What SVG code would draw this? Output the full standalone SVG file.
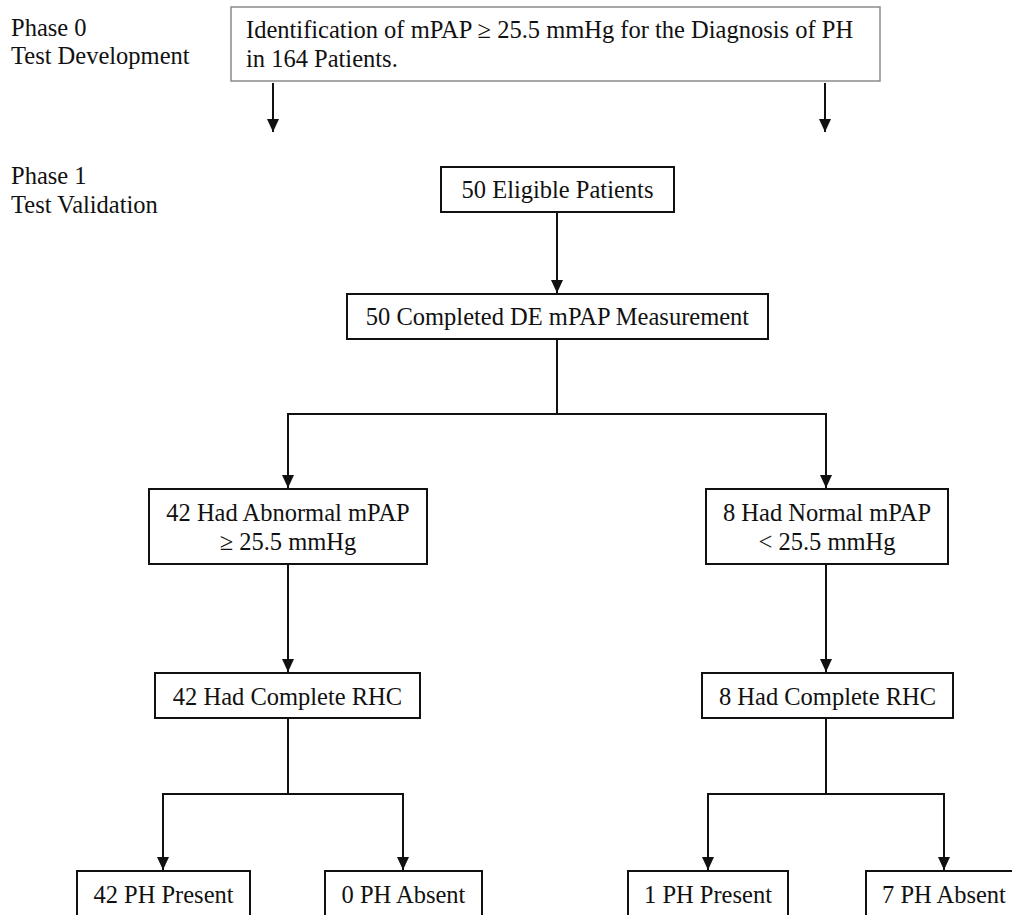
<svg xmlns="http://www.w3.org/2000/svg" width="1012" height="915" viewBox="0 0 1012 915">
<defs>
<marker id="ah" markerUnits="userSpaceOnUse" markerWidth="13" markerHeight="12" viewBox="0 0 13 12" refX="13" refY="6" orient="auto">
<path d="M0,0 L13,6 L0,12 Z" fill="#111"/>
</marker>
</defs>
<style>
text{font-family:"Liberation Serif","Times New Roman",serif;font-size:24.5px;fill:#111}
.box{fill:#fff;stroke:#111;stroke-width:2}
.gbox{fill:#fff;stroke:#8a8a8a;stroke-width:1.5}
.c{text-anchor:middle}
.ln{fill:none;stroke:#111;stroke-width:2}
.ar{fill:none;stroke:#111;stroke-width:2;marker-end:url(#ah)}
</style>
<rect width="1012" height="915" fill="#fff"/>
<g id="labels">
<text x="11" y="36">Phase 0</text>
<text x="11" y="64">Test Development</text>
<text x="11" y="184">Phase 1</text>
<text x="11" y="213">Test Validation</text>
</g>
<g id="connectors">
<line class="ar" x1="273" y1="83" x2="273" y2="132"/>
<line class="ar" x1="825" y1="83" x2="825" y2="132"/>
<line class="ar" x1="557" y1="212" x2="557" y2="293"/>
<polyline class="ln" points="557,339 557,414"/>
<line class="ln" x1="287" y1="414" x2="827" y2="414"/>
<line class="ar" x1="288" y1="414" x2="288" y2="488"/>
<line class="ar" x1="826" y1="414" x2="826" y2="488"/>
<line class="ar" x1="288" y1="564" x2="288" y2="672"/>
<line class="ar" x1="826" y1="564" x2="826" y2="672"/>
<line class="ln" x1="288" y1="718" x2="288" y2="794"/>
<line class="ln" x1="162" y1="794" x2="404" y2="794"/>
<line class="ar" x1="163" y1="794" x2="163" y2="870"/>
<line class="ar" x1="403" y1="794" x2="403" y2="870"/>
<line class="ln" x1="826" y1="718" x2="826" y2="794"/>
<line class="ln" x1="707" y1="794" x2="945" y2="794"/>
<line class="ar" x1="708" y1="794" x2="708" y2="870"/>
<line class="ar" x1="944" y1="794" x2="944" y2="870"/>
</g>
<g id="n-top">
<rect class="gbox" x="231" y="7" width="649" height="74"/>
<text x="246" y="38">Identification of mPAP ≥ 25.5 mmHg for the Diagnosis of PH</text>
<text x="246" y="67">in 164 Patients.</text>
</g>
<g id="n-eligible">
<rect class="box" x="441" y="167" width="233" height="45"/>
<text class="c" x="557.5" y="198">50 Eligible Patients</text>
</g>
<g id="n-completed">
<rect class="box" x="347" y="294" width="421" height="45"/>
<text class="c" x="557.5" y="325">50 Completed DE mPAP Measurement</text>
</g>
<g id="n-abnormal">
<rect class="box" x="149" y="489" width="278" height="75"/>
<text class="c" x="288" y="521">42 Had Abnormal mPAP</text>
<text class="c" x="288" y="550">≥ 25.5 mmHg</text>
</g>
<g id="n-normal">
<rect class="box" x="706" y="489" width="242" height="75"/>
<text class="c" x="827" y="521">8 Had Normal mPAP</text>
<text class="c" x="827" y="550">&lt; 25.5 mmHg</text>
</g>
<g id="n-rhc-left">
<rect class="box" x="155" y="673" width="265" height="45"/>
<text class="c" x="287.5" y="705">42 Had Complete RHC</text>
</g>
<g id="n-rhc-right">
<rect class="box" x="702" y="673" width="251" height="45"/>
<text class="c" x="827.5" y="705">8 Had Complete RHC</text>
</g>
<g id="n-42-present">
<rect class="box" x="77" y="871" width="173" height="46"/>
<text class="c" x="163.5" y="903">42 PH Present</text>
</g>
<g id="n-0-absent">
<rect class="box" x="325" y="871" width="157" height="46"/>
<text class="c" x="403.5" y="903">0 PH Absent</text>
</g>
<g id="n-1-present">
<rect class="box" x="628" y="871" width="160" height="46"/>
<text class="c" x="708" y="903">1 PH Present</text>
</g>
<g id="n-7-absent">
<rect class="box" x="866" y="871" width="160" height="46"/>
<text class="c" x="944" y="903">7 PH Absent</text>
</g>
</svg>
